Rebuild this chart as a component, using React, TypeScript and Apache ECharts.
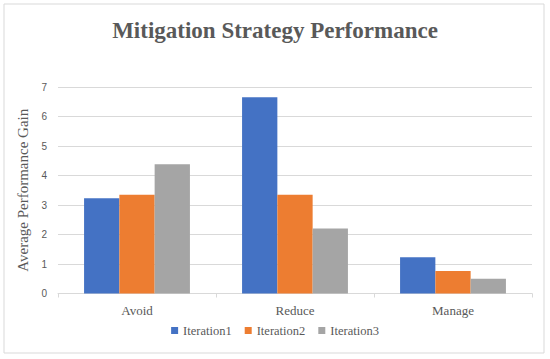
import React, { useEffect, useRef } from "react";
import * as echarts from "echarts";

const categories = ["Avoid", "Reduce", "Manage"];
const seriesNames = ["Iteration1", "Iteration2", "Iteration3"];
const iteration1 = [3.23, 6.65, 1.23];
const iteration2 = [3.35, 3.35, 0.76];
const iteration3 = [4.38, 2.2, 0.5];
const colors = ["#4472C4", "#ED7D31", "#A5A5A5"];

export default function App() {
  const ref = useRef<HTMLDivElement>(null);
  useEffect(() => {
    if (!ref.current) return;
    const chart = echarts.init(ref.current, null, { renderer: "svg" });
    const serif = "Liberation Serif";
    const values = [iteration1, iteration2, iteration3];
    chart.setOption({
      animation: false,
      backgroundColor: "#ffffff",
      title: {
        text: "Mitigation Strategy Performance",
        left: "center",
        top: 14,
        textStyle: {
          fontFamily: serif,
          fontWeight: "bold",
          fontSize: 23,
          color: "#595959",
        },
      },
      graphic: [
        {
          type: "rect",
          shape: { x: 4, y: 4, width: 540, height: 349 },
          style: { fill: "none", stroke: "#d9d9d9", lineWidth: 1 },
          silent: true,
        },
      ],
      legend: {
        data: seriesNames,
        bottom: 17,
        left: "center",
        itemWidth: 7,
        itemHeight: 7,
        itemGap: 13,
        icon: "rect",
        textStyle: { fontFamily: serif, fontSize: 12.5, color: "#595959" },
      },
      grid: { left: 58, right: 18, top: 87, bottom: 65.5 },
      xAxis: {
        type: "category",
        data: categories,
        axisLine: { lineStyle: { color: "#d9d9d9" } },
        axisTick: { show: true, length: 4, lineStyle: { color: "#d9d9d9" } },
        axisLabel: { fontFamily: serif, fontSize: 13, color: "#595959", margin: 10 },
      },
      yAxis: {
        type: "value",
        min: 0,
        max: 7,
        interval: 1,
        name: "Average Performance Gain",
        nameLocation: "middle",
        nameGap: 19,
        nameTextStyle: { fontFamily: serif, fontSize: 15, color: "#595959" },
        axisLine: { show: false },
        axisTick: { show: false },
        splitLine: { lineStyle: { color: "#d9d9d9" } },
        axisLabel: { fontFamily: "Liberation Sans", fontSize: 10, color: "#595959", margin: 11 },
      },
      series: seriesNames.map((n, i) => ({
        name: n,
        type: "bar",
        data: values[i],
        barGap: "0%",
        barCategoryGap: "33%",
        itemStyle: { color: colors[i] },
      })),
    });
    return () => chart.dispose();
  }, []);
  return (
    <div
      ref={ref}
      style={{ position: "fixed", left: 0, top: 0, width: 550, height: 359 }}
    />
  );
}
